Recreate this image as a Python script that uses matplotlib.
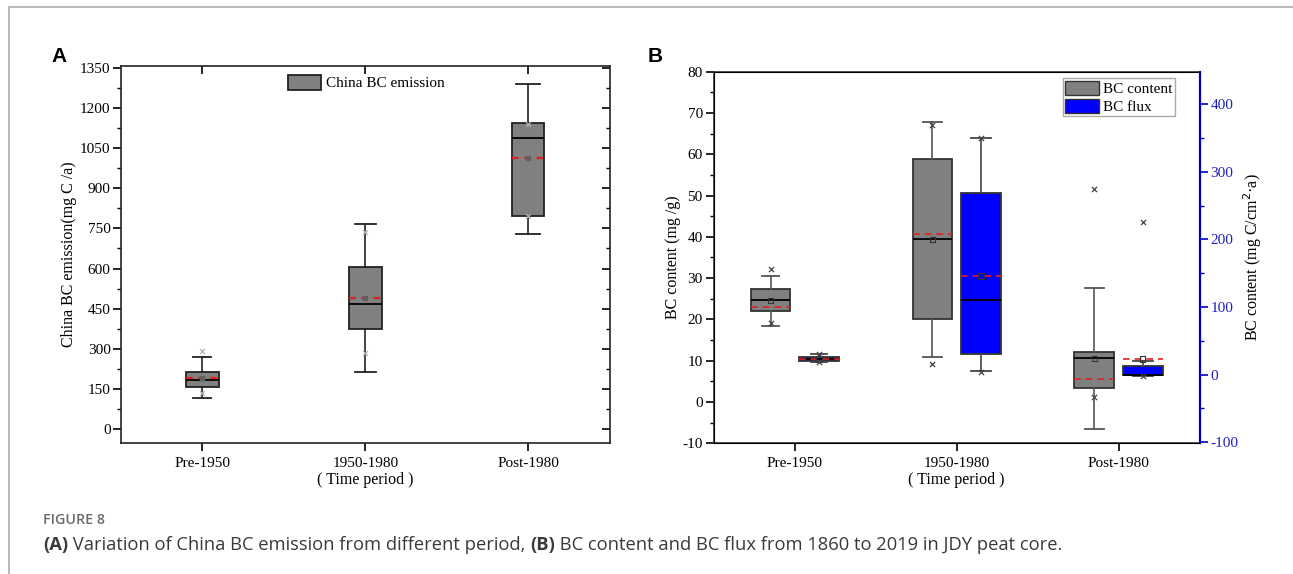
import matplotlib.pyplot as plt
from matplotlib.lines import Line2D
from matplotlib.patches import Patch
from matplotlib.ticker import MultipleLocator

periods = ['Pre-1950', '1950-1980', 'Post-1980']

# Panel A: China BC emission (mg C/a)
a_q1 = [156, 372, 797]
a_q3 = [212, 604, 1144]
a_med = [182, 469, 1090]
a_mean = [191, 488, 1012]
a_lo = [117, 211, 731]
a_hi = [267, 766, 1291]
a_x_hi = [293, 735, 1140]
a_x_lo = [135, 283, 795]

# Panel B: BC content (mg/g), left axis
c_q1 = [22.0, 20.0, 3.3]
c_q3 = [27.3, 58.8, 12.2]
c_med = [24.6, 39.4, 10.6]
c_sq = [24.6, 39.4, 10.6]
c_dash = [23.1, 40.7, 5.5]
c_lo = [18.5, 11.0, -6.5]
c_hi = [30.4, 67.9, 27.6]
c_x_hi = [32.1, 67.1, 51.6]
c_x_lo = [19.2, 9.3, 1.1]

# Panel B: BC flux, right axis
f_q1 = [20.8, 30.7, -1.0]
f_q3 = [26.2, 268.8, 13.0]
f_med = [23.0, 110.9, -0.5]
f_sq = [23.3, 146.0, 23.3]
f_dash = [23.3, 146.0, 23.0]
f_lo = [19.3, 5.0, -2.0]
f_hi = [31.2, 350.0, 20.7]
f_x_hi = [31.0, 350.0, 225.7]
f_x_lo = [18.8, 4.0, -1.5]

plt.rcParams['font.family'] = ['Liberation Serif', 'DejaVu Serif']
plt.rcParams['font.size'] = 11
plt.rcParams['axes.unicode_minus'] = False


def make_stats(q1, q3, med, lo, hi):
    return [dict(q1=a, q3=b, med=m, whislo=l, whishi=h, fliers=[])
            for a, b, m, l, h in zip(q1, q3, med, lo, hi)]


def draw_boxes(ax, stats, pos, width, cap, face, edge, whisk):
    ax.bxp(stats, positions=pos, widths=width, capwidths=cap, patch_artist=True,
           showfliers=False, manage_ticks=False,
           boxprops=dict(facecolor=face, edgecolor=edge, linewidth=1.3),
           medianprops=dict(color='black', linewidth=1.3),
           whiskerprops=dict(color=whisk, linewidth=1.2),
           capprops=dict(color=whisk, linewidth=1.3))


fig = plt.figure(figsize=(12.93, 5.74), dpi=100)

# ---------- Panel A ----------
axA = fig.add_axes([0.0936, 0.2287, 0.3778, 0.6563])
posA = [1, 2, 3]
wA = 0.2
draw_boxes(axA, make_stats(a_q1, a_q3, a_med, a_lo, a_hi), posA, wA,
           [0.11, 0.13, 0.15], '#808080', '#222222', '#222222')
axA.hlines(a_mean, [p - wA / 2 for p in posA], [p + wA / 2 for p in posA],
           colors='#e02020', linestyles=(0, (3, 2.5)), linewidth=1.6, zorder=4)
axA.scatter(posA, a_mean, marker='s', s=8, color='#606060', zorder=5)
axA.scatter(posA * 2, a_x_hi + a_x_lo, marker='x', s=12, color='#b0b0b0',
            linewidths=0.9, zorder=3)
axA.set_xlim(0.5, 3.5)
axA.set_ylim(-52, 1358)
axA.set_yticks(range(0, 1351, 150))
axA.yaxis.set_minor_locator(MultipleLocator(75))
axA.set_xticks(posA)
axA.set_xticklabels(periods)
axA.tick_params(axis='y', which='major', direction='out', length=6, width=1.2,
                right=True, pad=1.5)
axA.tick_params(axis='y', which='minor', direction='out', length=3, width=1.0, right=True)
axA.tick_params(axis='x', which='major', direction='out', length=6, width=1.2,
                top=True, pad=4)
axA.set_ylabel('China BC emission(mg C /a)', fontsize=11.5, labelpad=2)
axA.set_xlabel('( Time period )', fontsize=11.5, labelpad=2)
for s in axA.spines.values():
    s.set_linewidth(1.2)
    s.set_color('#222222')
# right and top ticks point inward
for t in axA.yaxis.get_major_ticks() + axA.yaxis.get_minor_ticks():
    t.tick2line.set_marker(0)
for t in axA.xaxis.get_major_ticks():
    t.tick2line.set_marker(3)
axA.legend(handles=[Patch(facecolor='#808080', edgecolor='#222222', linewidth=1.3,
                          label='China BC emission')],
           loc='upper left', bbox_to_anchor=(0.313, 1.013), frameon=False,
           handlelength=2.2, handleheight=1.1, handletextpad=0.3, fontsize=11)
fig.text(59 / 1293, 1 - 57 / 574, 'A', family='Liberation Sans', fontweight='bold',
         fontsize=15, ha='center', va='center')

# ---------- Panel B ----------
axB = fig.add_axes([0.5521, 0.2277, 0.3756, 0.6474])
axB2 = axB.twinx()
posC = [p - 0.15 for p in [1, 2, 3]]
posF = [p + 0.15 for p in [1, 2, 3]]
wB = 0.245
draw_boxes(axB, make_stats(c_q1, c_q3, c_med, c_lo, c_hi), posC, wB,
           [0.1, 0.12, 0.12], '#808080', '#333333', '#555555')
axB.hlines(c_dash, [p - wB / 2 for p in posC], [p + wB / 2 for p in posC],
           colors='#e02020', linestyles=(0, (4, 3)), linewidth=1.2, zorder=4)
axB.scatter(posC, c_sq, marker='s', s=14, facecolor='none', edgecolor='#333333',
            linewidths=0.8, zorder=5)
axB.scatter(posC * 2, c_x_hi + c_x_lo, marker='x', s=14, color='#444444',
            linewidths=0.9, zorder=5)

draw_boxes(axB2, make_stats(f_q1, f_q3, f_med, f_lo, f_hi), posF, wB,
           [0.1, 0.12, 0.12], '#0000ff', '#333333', '#444444')
axB2.hlines(f_dash, [p - wB / 2 for p in posF], [p + wB / 2 for p in posF],
            colors='#e02020', linestyles=(0, (4, 3)), linewidth=1.2, zorder=4)
axB2.scatter(posF, f_sq, marker='s', s=14, facecolor='none', edgecolor='#333333',
             linewidths=0.8, zorder=5)
axB2.scatter(posF * 2, f_x_hi + f_x_lo, marker='x', s=14, color='#444444',
             linewidths=0.9, zorder=5)

axB.set_xlim(0.5, 3.5)
axB.set_ylim(-10, 80)
axB.set_yticks(range(-10, 81, 10))
axB.yaxis.set_minor_locator(MultipleLocator(5))
axB.set_xticks([1, 2, 3])
axB.set_xticklabels(periods)
axB.tick_params(axis='y', which='major', direction='out', length=6, width=1.2, pad=2)
axB.tick_params(axis='y', which='minor', direction='out', length=3, width=1.0)
axB.tick_params(axis='x', which='major', direction='out', length=6, width=1.2, pad=4)
axB.set_ylabel('BC content (mg /g)', fontsize=11.5, labelpad=1)
axB.set_xlabel('( Time period )', fontsize=11.5, labelpad=1)
for s in axB.spines.values():
    s.set_linewidth(1.2)
    s.set_color('#333333')

axB2.set_ylim(-101.5, 448)
axB2.set_yticks(range(-100, 401, 100))
axB2.yaxis.set_minor_locator(MultipleLocator(50))
axB2.tick_params(axis='y', which='major', direction='out', length=6, width=1.2,
                 colors='#0000cc', labelcolor='#2020c0', pad=2)
axB2.tick_params(axis='y', which='minor', direction='out', length=3, width=1.0,
                 colors='#0000cc')
axB2.spines['right'].set_color('#0000cc')
axB2.spines['right'].set_linewidth(1.6)
axB2.set_ylabel('BC content (mg C/cm$^{2}$·a)', fontsize=11.5, labelpad=2)

axB2.legend(handles=[Patch(facecolor='#808080', edgecolor='#333333', label='BC content'),
                     Patch(facecolor='#0000ff', edgecolor='#333333', label='BC flux')],
            loc='upper right', bbox_to_anchor=(0.956, 0.990), frameon=True,
            fancybox=False, edgecolor='#aaaaaa', framealpha=1,
            handlelength=2.2, handleheight=1.1, handletextpad=0.3,
            labelspacing=0.15, borderpad=0.15, borderaxespad=0.2, fontsize=11)
fig.text(655 / 1293, 1 - 57 / 574, 'B', family='Liberation Sans', fontweight='bold',
         fontsize=15, ha='center', va='center')

# ---------- frame and caption ----------
fig.add_artist(Line2D([9 / 1293, 1], [1 - 7 / 574, 1 - 7 / 574], color='#b4b4b4',
                      linewidth=1.3, transform=fig.transFigure))
fig.add_artist(Line2D([9 / 1293, 9 / 1293], [0, 1 - 7 / 574], color='#b4b4b4',
                      linewidth=1.3, transform=fig.transFigure))
fig.text(43 / 1293, 1 - 520 / 574, 'FIGURE 8', family='Open Sans', fontweight='semibold',
         fontsize=10.3, color='#6b6b6b', va='center')

cap_parts = [('(A)', 'bold'),
             (' Variation of China BC emission from different period, ', 'normal'),
             ('(B)', 'bold'),
             (' BC content and BC flux from 1860 to 2019 in JDY peat core.', 'normal')]
prev = fig.text(43 / 1293, 1 - 554 / 574, cap_parts[0][0], family='Open Sans',
                fontweight='bold', fontsize=13.2, color='#3a3a3a', va='bottom')
for txt, wt in cap_parts[1:]:
    prev = axA.annotate(txt, xy=(1, 0), xycoords=prev, va='bottom', ha='left',
                        family='Open Sans', fontweight=wt, fontsize=13.2,
                        color='#3a3a3a', annotation_clip=False)

fig.savefig('out.png', dpi=100)
